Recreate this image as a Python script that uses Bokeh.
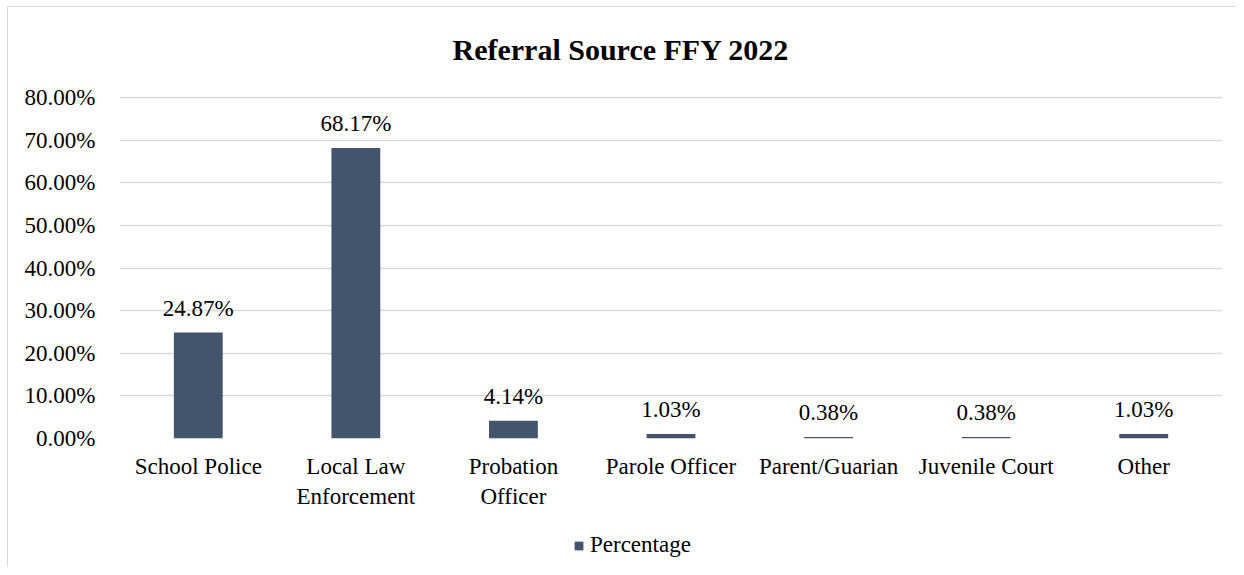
from bokeh.plotting import figure
from bokeh.layouts import column
from bokeh.models import (ColumnDataSource, FactorRange, Range1d, LabelSet,
                          Legend, LegendItem, FixedTicker)
from bokeh.embed import file_html
from bokeh.resources import INLINE

# ---- data ----
categories = ["School Police", "Local Law\nEnforcement", "Probation\nOfficer",
              "Parole Officer", "Parent/Guarian", "Juvenile Court", "Other"]
percentages = [24.87, 68.17, 4.14, 1.03, 0.38, 0.38, 1.03]
bar_labels = ["24.87%", "68.17%", "4.14%", "1.03%", "0.38%", "0.38%", "1.03%"]
y_ticks = [0, 10, 20, 30, 40, 50, 60, 70, 80]
y_tick_labels = ["0.00%", "10.00%", "20.00%", "30.00%", "40.00%",
                 "50.00%", "60.00%", "70.00%", "80.00%"]
title_text = "Referral Source FFY 2022"
series_name = "Percentage"

FONT = "Liberation Serif"
BAR = "#44546A"
GRID = "#D9D9D9"
FS = "23px"

src = ColumnDataSource(dict(x=categories, y=percentages, t=bar_labels))
xr = FactorRange(*categories, range_padding=0)

p = figure(width=1236, height=525,
           x_range=xr,
           y_range=Range1d(0, 80.25),
           output_backend="svg", toolbar_location=None,
           min_border_left=119, min_border_right=14,
           min_border_top=96, min_border_bottom=87)
p.outline_line_color = None
p.background_fill_alpha = 0
p.border_fill_alpha = 0

p.title.text = title_text
p.title.align = "left"
p.title.offset = 333
p.title.standoff = 61
p.title.text_font = FONT
p.title.text_font_size = "30px"
p.title.text_font_style = "bold"
p.title.text_color = "#000000"

p.xgrid.grid_line_color = None
p.ygrid.ticker = FixedTicker(ticks=y_ticks)
p.ygrid.grid_line_color = GRID
p.ygrid.grid_line_width = 1.3

bars = p.vbar(x="x", top="y", bottom=0, width=0.31, source=src,
              fill_color=BAR, line_color=None)

labels = LabelSet(x="x", y="y", text="t", source=src, y_offset=17,
                  text_align="center", text_baseline="alphabetic",
                  text_font=FONT, text_font_size=FS, text_color="#000000")
p.add_layout(labels)

# axes
ya = p.yaxis[0]
ya.ticker = FixedTicker(ticks=y_ticks)
ya.major_label_overrides = {t: l for t, l in zip(y_ticks, y_tick_labels)}
ya.axis_line_color = None
ya.major_tick_line_color = None
ya.minor_tick_line_color = None
ya.major_label_standoff = 18
ya.major_label_text_font = FONT
ya.major_label_text_font_size = FS
ya.major_label_text_color = "#000000"

xa = p.xaxis[0]
xa.axis_line_color = None
xa.major_tick_line_color = None
xa.minor_tick_line_color = None
xa.major_label_standoff = 9
xa.major_label_text_font = FONT
xa.major_label_text_font_size = FS
xa.major_label_text_color = "#000000"

# legend strip (separate small figure so the legend is not clipped);
# its key renderer uses the same series, drawn outside the strip's visible range
lf = figure(width=1236, height=42, x_range=xr, y_range=Range1d(1000, 1001),
            output_backend="svg", toolbar_location=None, min_border=0,
            x_axis_location=None, y_axis_location=None)
lf.grid.grid_line_color = None
lf.outline_line_color = None
lf.background_fill_alpha = 0
lf.border_fill_alpha = 0
key = lf.vbar(x="x", top="y", bottom=0, width=0.31, source=src,
              fill_color=BAR, line_color=None)
legend = Legend(items=[LegendItem(label=series_name, renderers=[key])],
                location=(454, 9), orientation="horizontal",
                glyph_width=11, glyph_height=11, label_standoff=6,
                label_text_font=FONT, label_text_font_size=FS,
                label_text_color="#000000",
                border_line_color=None, background_fill_alpha=0,
                padding=0, margin=0)
lf.add_layout(legend)

layout = column(p, lf, spacing=0)
layout.styles = {
    "background": ("linear-gradient(#D9D9D9,#D9D9D9) 7px 6px / 1px 100% no-repeat, "
                   "linear-gradient(#D9D9D9,#D9D9D9) 7px 6px / 100% 1px no-repeat, "
                   "#FFFFFF"),
}

open("out.html", "w").write(file_html(layout, INLINE))
